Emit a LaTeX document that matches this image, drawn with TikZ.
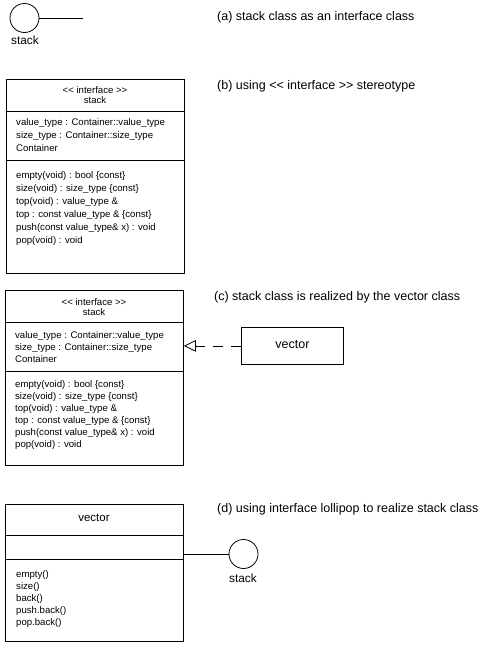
\documentclass[tikz,border=0pt]{standalone}
\usepackage{fontspec}
\setmainfont{Liberation Sans}
\usetikzlibrary{arrows.meta}
\newcommand\lltt{<\kern0pt<}
\newcommand\ggtt{>\kern0pt>}
\tikzset{
  ln/.style={line width=0.8pt, draw=black},
  boxtext/.style={anchor=west, inner sep=0pt, text height=0.72em, text depth=0.22em, font=\fontsize{9.6}{11}\selectfont},
  boxtitle/.style={anchor=center, inner sep=0pt, text height=0.72em, text depth=0.22em, font=\fontsize{9.6}{11}\selectfont},
  captxt/.style={anchor=west, inner sep=0pt, text height=0.72em, text depth=0.22em, font=\fontsize{12.5}{14}\selectfont},
  lbl/.style={anchor=center, inner sep=0pt, text height=0.72em, text depth=0.22em, font=\fontsize{11.8}{13}\selectfont},
  lolli/.style={circle, ln, minimum size=29pt, inner sep=0pt},
  classbox/.style={ln, rectangle, inner sep=0pt, anchor=north west},
  realize/.style={ln, dash pattern=on 10pt off 8pt, -{Triangle[open, length=12pt, width=11.5pt, line width=0.8pt]}}
}
\begin{document}
\begin{tikzpicture}[x=1pt, y=-1pt]
\useasboundingbox (0,0) rectangle (483,648);

% (a)
\node[lolli] (acirc) at (24.5,18) {};
\coordinate (aend) at (83,18);
\draw[ln] (acirc.east) -- (aend);
\node[lbl] (alab) at (25,42) {stack};
\node[captxt] (capa) at (217,18) {(a) stack class as an interface class};

% (b)
\node[classbox, minimum width=178pt, minimum height=194pt] (bbox) at (6,79) {};
\coordinate (bd1l) at (6,111.5); \coordinate (bd1r) at (184,111.5);
\coordinate (bd2l) at (6,160.5); \coordinate (bd2r) at (184,160.5);
\draw[ln] (bd1l) -- (bd1r);
\draw[ln] (bd2l) -- (bd2r);
\node[boxtitle] (bt1) at (95,90.5) {\lltt{} interface \ggtt};
\node[boxtitle] (bt2) at (95,100.5) {stack};
\node[boxtext] (ba1) at (16,123) {value\_type : Container::value\_type};
\node[boxtext] (ba2) at (16,135.5) {size\_type : Container::size\_type};
\node[boxtext] (ba3) at (16,149) {Container};
\node[boxtext] (bo1) at (16,176) {empty(void) : bool \{const\}};
\node[boxtext] (bo2) at (16,189) {size(void) : size\_type \{const\}};
\node[boxtext] (bo3) at (16,202) {top(void) : value\_type \&};
\node[boxtext] (bo4) at (16,215) {top : const value\_type \& \{const\}};
\node[boxtext] (bo5) at (16,228) {push(const value\_type\& x) : void};
\node[boxtext] (bo6) at (16,241) {pop(void) : void};
\node[captxt] (capb) at (217,87) {(b) using \lltt{} interface \ggtt{} stereotype};

% (c)
\node[classbox, minimum width=178pt, minimum height=175pt] (cbox) at (5,290) {};
\coordinate (cd1l) at (5,322.3); \coordinate (cd1r) at (183,322.3);
\coordinate (cd2l) at (5,371.5); \coordinate (cd2r) at (183,371.5);
\draw[ln] (cd1l) -- (cd1r);
\draw[ln] (cd2l) -- (cd2r);
\node[boxtitle] (ct1) at (94,302.5) {\lltt{} interface \ggtt};
\node[boxtitle] (ct2) at (94,312.5) {stack};
\node[boxtext] (ca1) at (15,335.5) {value\_type : Container::value\_type};
\node[boxtext] (ca2) at (15,347.5) {size\_type : Container::size\_type};
\node[boxtext] (ca3) at (15,359.5) {Container};
\node[boxtext] (co1) at (15,385) {empty(void) : bool \{const\}};
\node[boxtext] (co2) at (15,397) {size(void) : size\_type \{const\}};
\node[boxtext] (co3) at (15,409) {top(void) : value\_type \&};
\node[boxtext] (co4) at (15,421) {top : const value\_type \& \{const\}};
\node[boxtext] (co5) at (15,433) {push(const value\_type\& x) : void};
\node[boxtext] (co6) at (15,445) {pop(void) : void};
\node[classbox, minimum width=102pt, minimum height=37pt] (cvec) at (241,327) {};
\node[lbl, font=\fontsize{12.5}{14}\selectfont] (cvect) at (cvec.center) {vector};
\draw[realize] (cvec.west) -- (cvec.west -| cbox.east);
\node[captxt] (capc) at (214,298) {(c) stack class is realized by the vector class};

% (d)
\node[classbox, minimum width=178pt, minimum height=137pt] (dbox) at (5,504) {};
\coordinate (dd1l) at (5,535); \coordinate (dd1r) at (183,535);
\coordinate (dd2l) at (5,559); \coordinate (dd2r) at (183,559);
\draw[ln] (dd1l) -- (dd1r);
\draw[ln] (dd2l) -- (dd2r);
\node[boxtitle, font=\fontsize{11.5}{13}\selectfont] (dt1) at (94,519) {vector};
\node[boxtext] (do1) at (16,575) {empty()};
\node[boxtext] (do2) at (16,587) {size()};
\node[boxtext] (do3) at (16,599) {back()};
\node[boxtext] (do4) at (16,611) {push.back()};
\node[boxtext] (do5) at (16,623) {pop.back()};
\node[lolli] (dcirc) at (243.5,554) {};
\draw[ln] (dcirc.west) -- (dcirc.west -| dbox.east);
\node[lbl] (dlab) at (243,580) {stack};
\node[captxt] (capd) at (217,510) {(d) using interface lollipop to realize stack class};
\end{tikzpicture}
\end{document}
